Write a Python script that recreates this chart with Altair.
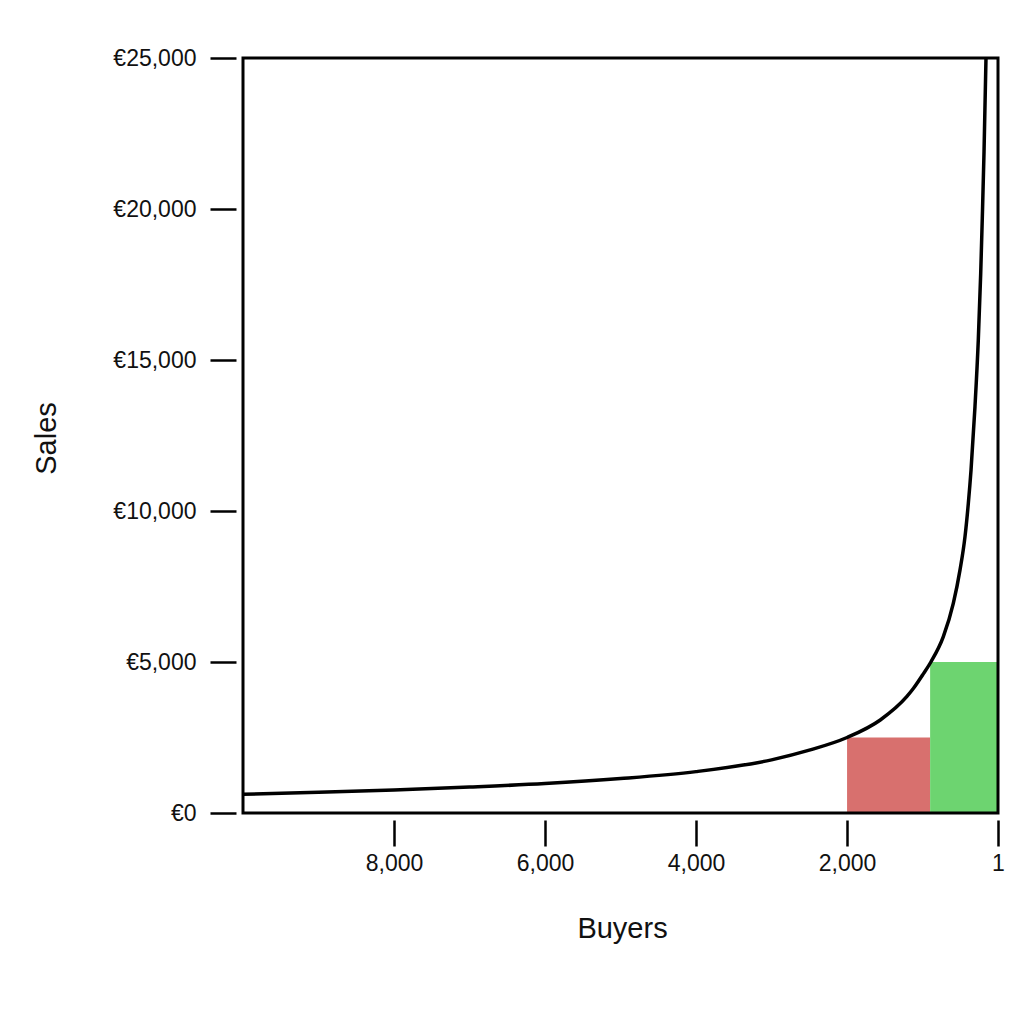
import altair as alt
import pandas as pd

# Curve: buyer rank vs. sales
ranks = [10000, 9000, 8000, 7000, 6000, 5000, 4000, 3000, 2500, 2000,
         1560, 1210, 1120, 1000, 890, 725, 593, 504, 438, 394, 358,
         306, 262, 230, 209, 186, 160]
sales = [620, 690, 765, 860, 975, 1140, 1370, 1760, 2080, 2500,
         3080, 3850, 4130, 4570, 5000, 5840, 6940, 8050, 9150, 10250, 11360,
         13450, 15660, 17870, 19700, 21900, 25000]

# Highlighted blocks
bar_start = [2000, 900]
bar_end = [900, 1]
bar_height = [2500, 5000]
bar_color = ["#d8706e", "#6dd470"]

x_ticks = [8000, 6000, 4000, 2000, 1]
y_ticks = [0, 5000, 10000, 15000, 20000, 25000]

curve = pd.DataFrame({"rank": ranks, "sales": sales})
bars = pd.DataFrame({"x0": bar_start, "x1": bar_end, "h": bar_height, "c": bar_color})

W, H = 755, 755
FONT = "Liberation Sans"

xscale = alt.Scale(domain=[1, 10000], reverse=True, nice=False, zero=False)
yscale = alt.Scale(domain=[0, 25000], nice=False)

xaxis = alt.Axis(values=x_ticks, labelExpr="format(datum.value, ',')", title="Buyers", grid=False, domain=False,
                 offset=7, tickSize=26, tickWidth=2.5, tickColor="black",
                 labelFont=FONT, labelFontSize=23, labelColor="#111", labelPadding=6,
                 labelFlush=False, labelOverlap=False,
                 titleFont=FONT, titleFontSize=29, titleFontWeight="normal", titleColor="#111",
                 titleX=379, titleY=117, titleBaseline="alphabetic", titleAnchor=None)
yaxis = alt.Axis(values=y_ticks, labelExpr="'€' + format(datum.value, ',')", title="Sales",
                 grid=False, domain=False, offset=7, tickSize=26, tickWidth=2.5, tickColor="black",
                 labelFont=FONT, labelFontSize=23, labelColor="#111", labelPadding=14,
                 labelFlush=False, labelOverlap=False,
                 titleFont=FONT, titleFontSize=29, titleFontWeight="normal", titleColor="#111",
                 titleX=-181, titleY=380, titleBaseline="alphabetic", titleAngle=270)

rects = alt.Chart(bars).mark_rect().encode(
    x=alt.X("x0:Q", scale=xscale, axis=xaxis),
    x2="x1:Q",
    y=alt.Y("h:Q", scale=yscale, axis=yaxis),
    y2=alt.datum(0),
    color=alt.Color("c:N", scale=None),
)

line = alt.Chart(curve).mark_line(color="black", strokeWidth=3.5, interpolate="monotone", clip=True).encode(
    x=alt.X("rank:Q", scale=xscale),
    y=alt.Y("sales:Q", scale=yscale),
    order=alt.Order("rank:Q", sort="descending"),
)

frame = alt.Chart(pd.DataFrame({"a": [0]})).mark_rect(fill=None, stroke="black", strokeWidth=3).encode(
    x=alt.value(0), x2=alt.value(W), y=alt.value(0), y2=alt.value(H)
)

chart = alt.layer(rects, line, frame).properties(
    width=W, height=H,
    autosize=alt.AutoSizeParams(type="none"),
    padding={"left": 235, "top": 50, "right": 10, "bottom": 190},
).configure_view(stroke=None).configure(background="white")

chart.save("out.html", embed_options={"renderer": "svg", "actions": False})
